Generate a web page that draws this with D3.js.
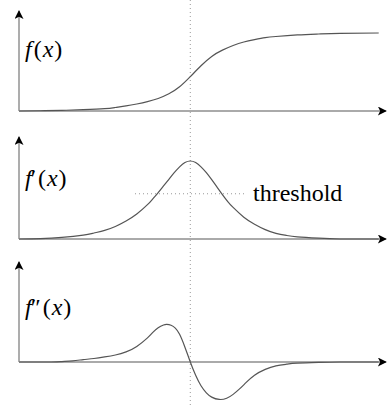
<!DOCTYPE html>
<html>
<head>
<meta charset="utf-8">
<script src="https://cdn.jsdelivr.net/npm/d3@7"></script>
<style>
  html, body { margin: 0; padding: 0; background: #fff; }
  svg { display: block; }
  .lbl { font-family: 'Liberation Serif', 'DejaVu Serif', serif; fill: #000; }
</style>
</head>
<body>
<script>
// sampled curves, x measured from the inflection point (dotted line)
const xF   = [-8, -7, -6, -5, -4, -3.5, -3, -2.5, -2, -1.5, -1, -0.5, 0, 0.5, 1, 1.5, 2, 2.5, 3, 3.5, 4, 5, 6, 7, 8.8]
const yF   = [0, 0.003, 0.008, 0.017, 0.03, 0.045, 0.065, 0.09, 0.12, 0.16, 0.22, 0.31, 0.44, 0.58, 0.7, 0.78, 0.84, 0.885, 0.915, 0.94, 0.955, 0.975, 0.987, 0.995, 1.0]

const xD1  = [-8, -7, -6, -5, -4.5, -4, -3.5, -3, -2.5, -2, -1.75, -1.5, -1.25, -1, -0.75, -0.5, -0.25, 0, 0.25, 0.5, 0.75, 1, 1.25, 1.5, 1.75, 2, 2.5, 3, 3.5, 4, 4.5, 5, 6, 7, 8.8]
const yD1  = [0, 0.005, 0.02, 0.05, 0.077, 0.11, 0.16, 0.23, 0.32, 0.44, 0.515, 0.595, 0.68, 0.765, 0.85, 0.925, 0.98, 1.0, 0.98, 0.925, 0.85, 0.76, 0.665, 0.57, 0.48, 0.405, 0.28, 0.19, 0.12, 0.072, 0.045, 0.028, 0.01, 0, 0]

const xD2  = [-8, -6.5, -6, -5.5, -5, -4.5, -4, -3.5, -3, -2.5, -2, -1.75, -1.5, -1.25, -1.1, -0.9, -0.7, -0.5, -0.25, 0, 0.25, 0.5, 0.75, 1, 1.35, 1.7, 2, 2.3, 2.6, 3, 3.5, 4, 4.5, 5, 6, 7, 8.8]
const yD2  = [0, 0, 0.005, 0.015, 0.03, 0.045, 0.065, 0.09, 0.13, 0.2, 0.31, 0.38, 0.44, 0.475, 0.483, 0.472, 0.435, 0.355, 0.19, 0, -0.17, -0.305, -0.395, -0.45, -0.48, -0.465, -0.415, -0.345, -0.265, -0.17, -0.095, -0.05, -0.028, -0.015, -0.005, 0, 0]

const THRESHOLD = 0.58
const LABELS = [['f', '', '(', 'x', ')'], ['f', '\u2032', '(', 'x', ')'], ['f', '\u2033', '(', 'x', ')']]

let w = 387,
    h = 407

let svg = d3.select('body').append('svg')
    .attr('width', w)
    .attr('height', h)

let x = d3.scaleLinear().domain([-8, 9]).range([19, 383])

// one panel per curve: baseline of axis, top of arrow, label baseline
let panels = [
    { xs: xF,  ys: yF,  base: 111, top: 11,  label: 57 },
    { xs: xD1, ys: yD1, base: 239, top: 137, label: 186 },
    { xs: xD2, ys: yD2, base: 362, top: 262, label: 315 }
]

let defs = svg.append('defs')
defs.append('marker')
    .attr('id', 'arrow')
    .attr('viewBox', '0 0 10 10')
    .attr('refX', 9)
    .attr('refY', 5)
    .attr('markerUnits', 'userSpaceOnUse')
    .attr('markerWidth', 10)
    .attr('markerHeight', 9)
    .attr('orient', 'auto')
  .append('path')
    .attr('d', 'M0,0 L10,5 L0,10 L2.5,5 Z')
    .attr('fill', '#000')

// vertical dotted line through the inflection point
svg.append('line')
    .attr('x1', x(0)).attr('x2', x(0))
    .attr('y1', 0).attr('y2', h)
    .attr('stroke', '#999')
    .attr('stroke-width', 1)
    .attr('stroke-dasharray', '1,3')

panels.forEach((p, i) => {
    let y = d3.scaleLinear().domain([0, 1]).range([p.base, p.base - 78])
    let g = svg.append('g')

    // y axis
    g.append('line')
        .attr('x1', x(-8)).attr('x2', x(-8))
        .attr('y1', p.base).attr('y2', p.top)
        .attr('stroke', '#999')
        .attr('stroke-width', 1.6)
        .attr('marker-end', 'url(#arrow)')

    // x axis
    g.append('line')
        .attr('x1', x(-8)).attr('x2', 386)
        .attr('y1', p.base).attr('y2', p.base)
        .attr('stroke', '#aaa')
        .attr('stroke-width', 2)
        .attr('marker-end', 'url(#arrow)')

    let line = d3.line()
        .x(d => x(d[0]))
        .y(d => y(d[1]))
        .curve(d3.curveNatural)

    g.append('path')
        .datum(d3.zip(p.xs, p.ys))
        .attr('d', line)
        .attr('fill', 'none')
        .attr('stroke', '#555')
        .attr('stroke-width', 1.2)

    // label f(x), f'(x), f''(x)
    let t = g.append('text')
        .attr('class', 'lbl')
        .attr('x', 25)
        .attr('y', p.label)
        .style('font-size', '24px')
    let parts = LABELS[i]
    t.append('tspan').style('font-style', 'italic').text(parts[0])
    if (parts[1]) t.append('tspan').attr('dx', -1).text(parts[1])
    t.append('tspan').attr('dx', 2).text(parts[2])
    t.append('tspan').attr('dx', 1).style('font-style', 'italic').text(parts[3])
    t.append('tspan').attr('dx', 1).text(parts[4])

    if (i === 1) {
        g.append('line')
            .attr('x1', 135).attr('x2', 245)
            .attr('y1', y(THRESHOLD)).attr('y2', y(THRESHOLD))
            .attr('stroke', '#999')
            .attr('stroke-width', 1)
            .attr('stroke-dasharray', '1,3')
        g.append('text')
            .attr('class', 'lbl')
            .attr('x', 253)
            .attr('y', y(THRESHOLD) + 7)
            .style('font-size', '24px')
            .text('threshold')
    }
})
</script>
</body>
</html>
